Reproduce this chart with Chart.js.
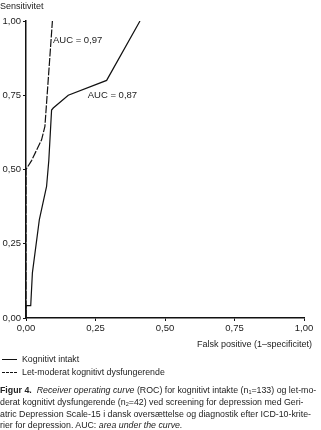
<!DOCTYPE html>
<html>
<head>
<meta charset="utf-8">
<script src="https://cdn.jsdelivr.net/npm/chart.js@4"></script>
<style>
body{margin:0;background:#fff;font-family:"Liberation Sans",Arial,sans-serif;color:#222;}
#wrap{position:relative;width:321px;height:430px;overflow:hidden;}
#roc{position:absolute;left:0;top:0;}
.lbl{position:absolute;font-size:9px;white-space:nowrap;}
.leg{position:absolute;left:2px;font-size:8.8px;white-space:nowrap;}
.leg span{display:inline-block;width:15px;height:0;border-top:1.3px solid #111;vertical-align:middle;margin-right:5px;}
.leg span.d{border-top-style:dashed;}
#cap{position:absolute;left:0;top:385px;width:321px;font-size:8.8px;line-height:11.8px;white-space:nowrap;}
#cap div{height:11.8px;}
#cap sub{font-size:5.5px;line-height:0;vertical-align:-1px;}
</style>
</head>
<body>
<div id="wrap">
<canvas id="roc" width="321" height="350"></canvas>
<div class="lbl" style="left:0;top:1px;">Sensitivitet</div>
<div class="lbl" style="right:9px;top:339px;">Falsk positive (1–specificitet)</div>
<div class="leg" style="top:354px;"><span></span>Kognitivt intakt</div>
<div class="leg" style="top:367px;"><span class="d"></span>Let-moderat kognitivt dysfungerende</div>
<div id="cap">
<div><b>Figur 4.</b>&nbsp; <i>Receiver operating curve</i> (ROC) for kognitivt intakte (n<sub>1</sub>=133) og let-mo-</div>
<div>derat kognitivt dysfungerende (n<sub>2</sub>=42) ved screening for depression med Geri-</div>
<div>atric Depression Scale-15 i dansk oversættelse og diagnostik efter ICD-10-krite-</div>
<div>rier for depression. AUC: <i>area under the curve.</i></div>
</div>
</div>
<script>
document.addEventListener("DOMContentLoaded", function () {

// Kognitivt intakt (AUC 0,87)
const intaktX = [0, 0, 0.017, 0.023, 0.048, 0.074, 0.082, 0.092, 0.098, 0.152, 0.29, 0.41];
const intaktY = [0, 0.042, 0.042, 0.152, 0.331, 0.443, 0.53, 0.70, 0.707, 0.75, 0.80, 1.0];

// Let-moderat kognitivt dysfungerende (AUC 0,97)
const letmodX = [0, 0, 0.02, 0.056, 0.068, 0.095];
const letmodY = [0, 0.50, 0.53, 0.60, 0.645, 1.0];

const tickValues = [0, 0.25, 0.5, 0.75, 1];

const aucLabels = [
    {text: "AUC = 0,97", x: 0.097, y: 0.935},
    {text: "AUC = 0,87", x: 0.222, y: 0.75}
];

function pts(xs, ys){
    return xs.map(function(x, i){ return {x: x, y: ys[i]}; });
}

function fmt(v){ return v.toFixed(2).replace(".", ","); }

const aucPlugin = {
    id: "aucText",
    afterDraw: function(chart){
        const ctx = chart.ctx;
        const sx = chart.scales.x, sy = chart.scales.y;
        ctx.save();
        ctx.font = "9.5px 'Liberation Sans', Arial, sans-serif";
        ctx.fillStyle = "#222";
        ctx.textBaseline = "middle";
        aucLabels.forEach(function(l){
            ctx.fillText(l.text, sx.getPixelForValue(l.x), sy.getPixelForValue(l.y));
        });
        ctx.restore();
    }
};

const axisStyle = {
    grid: {drawOnChartArea: false, drawTicks: true, tickLength: 3, color: "#111"},
    border: {color: "#111", width: 1.5}
};

new Chart(document.getElementById("roc"), {
    type: "scatter",
    data: {
        datasets: [{
            data: pts(intaktX, intaktY),
            showLine: true,
            borderColor: "#111",
            borderWidth: 1.2,
            pointRadius: 0,
            tension: 0
        },{
            data: pts(letmodX, letmodY),
            showLine: true,
            borderColor: "#111",
            borderWidth: 1.2,
            borderDash: [8, 1.5],
            pointRadius: 0,
            tension: 0
        }]
    },
    options: {
        responsive: false,
        animation: false,
        layout: {padding: {top: 21, right: 17, left: 0, bottom: 0}},
        plugins: {legend: {display: false}, tooltip: {enabled: false}},
        scales: {
            x: Object.assign({
                type: "linear", min: 0, max: 1,
                afterBuildTicks: function(a){ a.ticks = tickValues.map(function(v){ return {value: v}; }); },
                afterFit: function(a){ a.height = 32; },
                ticks: {
                    callback: fmt, maxRotation: 0, padding: 2, color: "#222",
                    font: {family: "'Liberation Sans', Arial, sans-serif", size: 9.5}
                }
            }, axisStyle),
            y: Object.assign({
                type: "linear", min: 0, max: 1,
                afterBuildTicks: function(a){ a.ticks = tickValues.map(function(v){ return {value: v}; }); },
                afterFit: function(a){ a.width = 26; },
                ticks: {
                    callback: fmt, padding: 2, color: "#222",
                    font: {family: "'Liberation Sans', Arial, sans-serif", size: 9.5}
                }
            }, axisStyle)
        }
    },
    plugins: [aucPlugin]
});

});
</script>
</body>
</html>
